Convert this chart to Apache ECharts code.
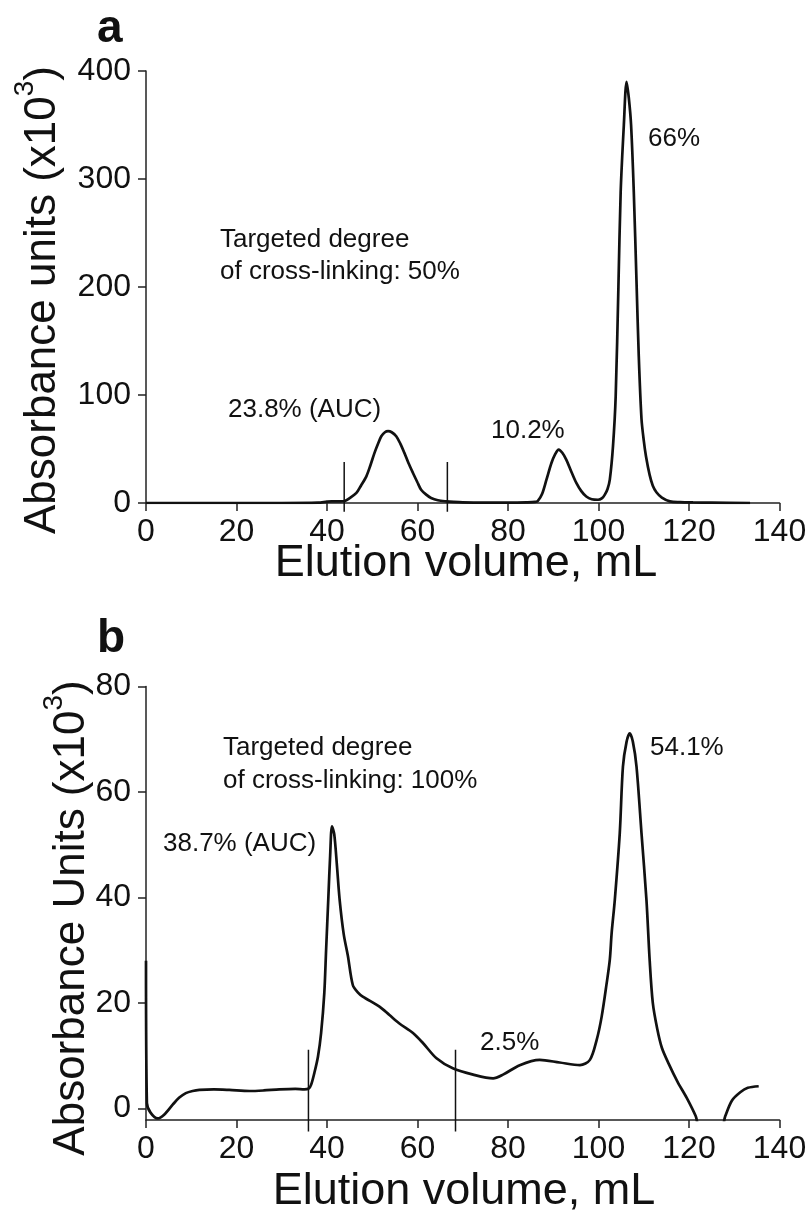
<!DOCTYPE html>
<html>
<head>
<meta charset="utf-8">
<script src="https://cdn.jsdelivr.net/npm/echarts@6/dist/echarts.min.js"></script>
<style>
html,body{margin:0;padding:0;background:#fff}
#main{width:812px;height:1211px}
</style>
</head>
<body>
<div id="main"></div>
<script>
// panel a : 50% cross-linking
var volA=[0,10,20,30,38,40,41,43,43.9,45,46.5,47.5,48.7,49.6,50.5,51.3,52,52.8,53.5,54.3,55.3,56.2,57.1,58,59,60,60.8,62,63,64.5,66.4,68,70,75,80,84,86,86.6,87.5,88.5,89.6,90.4,91.2,92,92.9,94,95.1,96.2,97.3,98.5,99.9,100.8,101.4,102,102.5,103.2,103.8,104.4,104.9,105.6,106.2,106.7,107.2,107.8,108.4,108.9,109.5,110,110.5,111.3,112,112.8,114,115.8,118,120.9,125,133.5];
var absA=[0,0,0,0,0.3,1.2,1.5,1.5,1.8,4.5,9.3,16,24.7,35,46.4,55,61.8,65.5,66.5,65.5,61.8,55,46.4,37,27.8,19,12.3,7.5,4.6,2.5,1.5,1,0.6,0.4,0.4,0.6,1,2,8,21.6,37,45,49.5,46.5,40,29,18.6,11,6,3.5,3,4.5,7.7,13,21.6,52.5,99,200,288,350,390,375,350,288,205,136,78,58,43,26,16,10,5,1.5,0.8,0.5,0.3,0];
var cutsA=[43.8,66.6];

// panel b : 100% cross-linking
var volB=[0,0.2,1,2.6,4,5.9,7.3,8.8,10.3,11.8,15,18.4,22.9,26,29.5,33,35,36,36.5,37.2,38,38.7,39.4,39.8,40.3,40.7,41.1,41.6,42.2,42.8,43.7,44.6,45.7,46.8,47.9,51.6,53.8,56,59,61.2,64.2,67.8,72.3,76.7,78.9,82.6,87,91.4,95.9,98.1,99.6,100.7,101.8,102.5,102.9,103.6,104.7,105.4,106.2,106.9,107.6,108.4,109.5,110.6,111.3,112,113,114,115.5,117.5,119.5,121.5,122.5,127,128,129.5,131.4,133,135.4];
var absB=[28,1,-0.8,-1.9,-1.2,0.7,2,2.9,3.3,3.5,3.6,3.5,3.3,3.4,3.6,3.7,3.6,3.8,4.5,6.7,9.8,14.3,21.8,30,40,48,53.5,52,46,39.5,33,29,23.4,22,21.2,19.3,17.7,16.1,14.3,12.4,9.5,7.6,6.4,5.7,6.4,8.2,9.2,8.7,8.2,9.2,13,17.4,23.7,28.2,33.2,39.5,52.2,64.8,69.5,71.1,69.5,64.8,52.2,39.5,28.2,20,15,11.5,8.5,5,2,-1.5,-4,-4,-1.5,1.5,3.1,3.9,4.2];
var cutsB=[35.9,68.4];

var yTicksB=[0,20,40,60,80];

var FONT="'Liberation Sans', Arial, sans-serif";
var INK='#111';

function pairs(xs,ys){
  var out=[];
  for(var i=0;i<xs.length;i++){ out.push([xs[i],ys[i]]); }
  return out;
}

function cutLines(xs,top,bottom,idx){
  return xs.map(function(v){
    return {
      type:'line',xAxisIndex:idx,yAxisIndex:idx,
      data:[[v,top],[v,bottom]],
      clip:false,symbol:'none',silent:true,
      lineStyle:{color:INK,width:1.5}
    };
  });
}

var axisLine={show:true,onZero:false,lineStyle:{color:'#222',width:1.5}};
var axisTick={show:true,inside:false,length:8,lineStyle:{color:'#222',width:1.5}};

function xAxis(idx){
  return {
    type:'value',gridIndex:idx,min:0,max:140,interval:20,
    axisLine:axisLine,axisTick:axisTick,splitLine:{show:false},
    axisLabel:{fontSize:32,color:INK,fontFamily:FONT,margin:13}
  };
}

function text(x,y,str,size,extra){
  var st={text:str,x:0,y:0,fill:INK,fontSize:size,fontFamily:FONT,align:'left',verticalAlign:'middle'};
  for(var k in extra){ st[k]=extra[k]; }
  return {type:'text',x:x,y:y,style:st,silent:true};
}

function yTitle(x,y,word){
  return {
    type:'text',x:x,y:y,rotation:Math.PI/2,silent:true,
    style:{
      text:'{m|Absorbance '+word+' (x10}{s|3}{m|)}',
      align:'center',verticalAlign:'middle',fill:INK,
      rich:{
        m:{fontSize:44,fontFamily:FONT,fill:INK,lineHeight:54,verticalAlign:'bottom'},
        s:{fontSize:28,fontFamily:FONT,fill:INK,lineHeight:28,padding:[0,0,26,0],verticalAlign:'bottom'}
      }
    }
  };
}

var myChart=echarts.init(document.getElementById('main'),null,{renderer:'canvas'});

var option={
  backgroundColor:'#fff',
  animation:false,
  grid:[
    {left:146,top:71,width:633.5,height:432},
    {left:146,top:686.5,width:633.5,height:433.5}
  ],
  xAxis:[xAxis(0),xAxis(1)],
  yAxis:[
    {
      type:'value',gridIndex:0,min:0,max:400,interval:100,
      axisLine:axisLine,axisTick:axisTick,splitLine:{show:false},
      axisLabel:{fontSize:32,color:INK,fontFamily:FONT,margin:15}
    },
    {
      type:'value',gridIndex:1,min:-2.2,max:80,
      axisLine:axisLine,splitLine:{show:false},
      axisTick:{show:true,inside:false,length:8,lineStyle:{color:'#222',width:1.5},customValues:yTicksB},
      axisLabel:{fontSize:32,color:INK,fontFamily:FONT,margin:15,customValues:yTicksB}
    }
  ],
  series:[
    {
      type:'line',xAxisIndex:0,yAxisIndex:0,data:pairs(volA,absA),
      showSymbol:false,smooth:0.3,lineStyle:{color:INK,width:2.7}
    },
    {
      type:'line',xAxisIndex:1,yAxisIndex:1,data:pairs(volB,absB),
      showSymbol:false,smooth:0.3,clip:true,lineStyle:{color:INK,width:2.7}
    }
  ].concat(cutLines(cutsA,38,-8,0)).concat(cutLines(cutsB,11.1,-4.4,1)),
  graphic:[
    // panel letters
    text(97,29,'a',46,{fontWeight:'bold'}),
    text(97,639,'b',46,{fontWeight:'bold'}),
    // axis titles
    text(466,564,'Elution volume, mL',45,{align:'center'}),
    text(464,1192,'Elution volume, mL',45,{align:'center'}),
    yTitle(38,300,'units'),
    yTitle(67,918,'Units'),
    // panel a notes
    text(220,240,'Targeted degree',26),
    text(220,272,'of cross-linking: 50%',26),
    text(228,410,'23.8% (AUC)',26),
    text(491,431,'10.2%',26),
    text(648,139,'66%',26),
    // panel b notes
    text(223,748,'Targeted degree',26),
    text(223,781,'of cross-linking: 100%',26),
    text(163,844,'38.7% (AUC)',26),
    text(480,1043,'2.5%',26),
    text(650,748,'54.1%',26)
  ]
};
myChart.setOption(option);
</script>
</body>
</html>
